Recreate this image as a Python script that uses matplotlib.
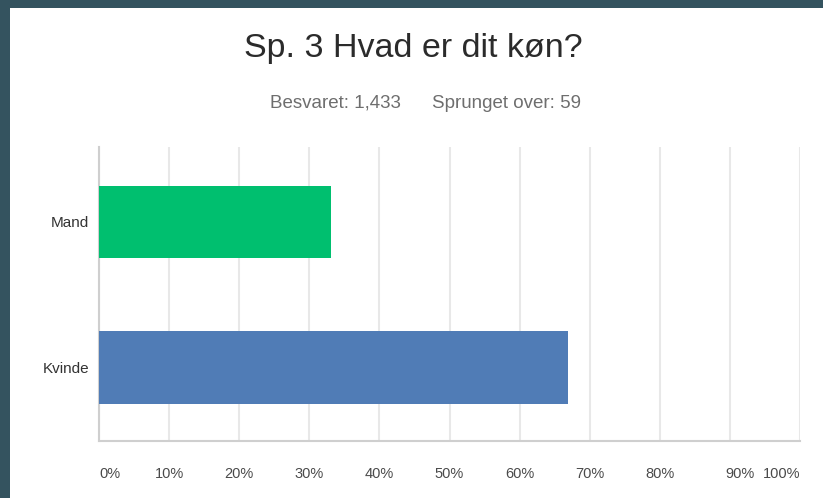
import matplotlib
matplotlib.use("Agg")
import matplotlib.pyplot as plt
from matplotlib.patches import Rectangle
import matplotlib.transforms as mtransforms

categories = ["Mand", "Kvinde"]
shares = [33.1, 66.9]
bar_colors = ["#00BF6F", "#507CB6"]
tick_values = [0, 10, 20, 30, 40, 50, 60, 70, 80, 90, 100]
tick_labels = [f"{v}%" for v in tick_values]
title = "Sp. 3 Hvad er dit køn?"
answered = "Besvaret: 1,433"
skipped = "Sprunget over: 59"

plt.rcParams["font.family"] = ["Liberation Sans", "DejaVu Sans"]

fig = plt.figure(figsize=(8.23, 4.98), dpi=100)
fig.patch.set_facecolor("#34535F")
fig.patches.append(Rectangle((10 / 823, 0), 1, 1 - 8 / 498, transform=fig.transFigure,
                             facecolor="white", edgecolor="none", zorder=-10))

ax = fig.add_axes([99 / 823, 1 - 441 / 498, 701 / 823, 294 / 498])
ax.set_facecolor("white")
ypos = list(range(len(categories)))
ax.barh(ypos, shares, height=0.495, color=bar_colors, zorder=3)
ax.set_ylim(len(categories) - 0.495, -0.515)
ax.set_xlim(0, 100)

ax.set_xticks(tick_values)
ax.set_xticklabels(tick_labels, fontsize=10.5, color="#4A4A4A")
ax.grid(axis="x", color="#E8E8E8", linewidth=1.5, zorder=0)
ax.tick_params(axis="x", length=0, pad=19)
ax.tick_params(axis="y", length=0, pad=7, labelsize=11, labelcolor="#333333")
ax.set_yticks(ypos)
ax.set_yticklabels(categories)

xlabels = ax.get_xticklabels()
xlabels[0].set_horizontalalignment("left")
xlabels[-1].set_horizontalalignment("right")
xlabels[-2].set_transform(xlabels[-2].get_transform()
                          + mtransforms.ScaledTranslation(0.1, 0, fig.dpi_scale_trans))

for side in ["top", "right"]:
    ax.spines[side].set_visible(False)
ax.spines["left"].set_color("#CFCFCF")
ax.spines["left"].set_linewidth(1.5)
ax.spines["bottom"].set_color("#CFCFCF")
ax.spines["bottom"].set_linewidth(1.5)

fig.text(413 / 823, 1 - 48 / 498, title, ha="center", va="center", fontsize=24.5, color="#2B2B2B")
fig.text(335 / 823, 1 - 103 / 498, answered, ha="center", va="center", fontsize=13.5, color="#6E6E6E")
fig.text(507 / 823, 1 - 103 / 498, skipped, ha="center", va="center", fontsize=13.5, color="#6E6E6E")

fig.savefig("out.png", dpi=100, facecolor=fig.get_facecolor())
